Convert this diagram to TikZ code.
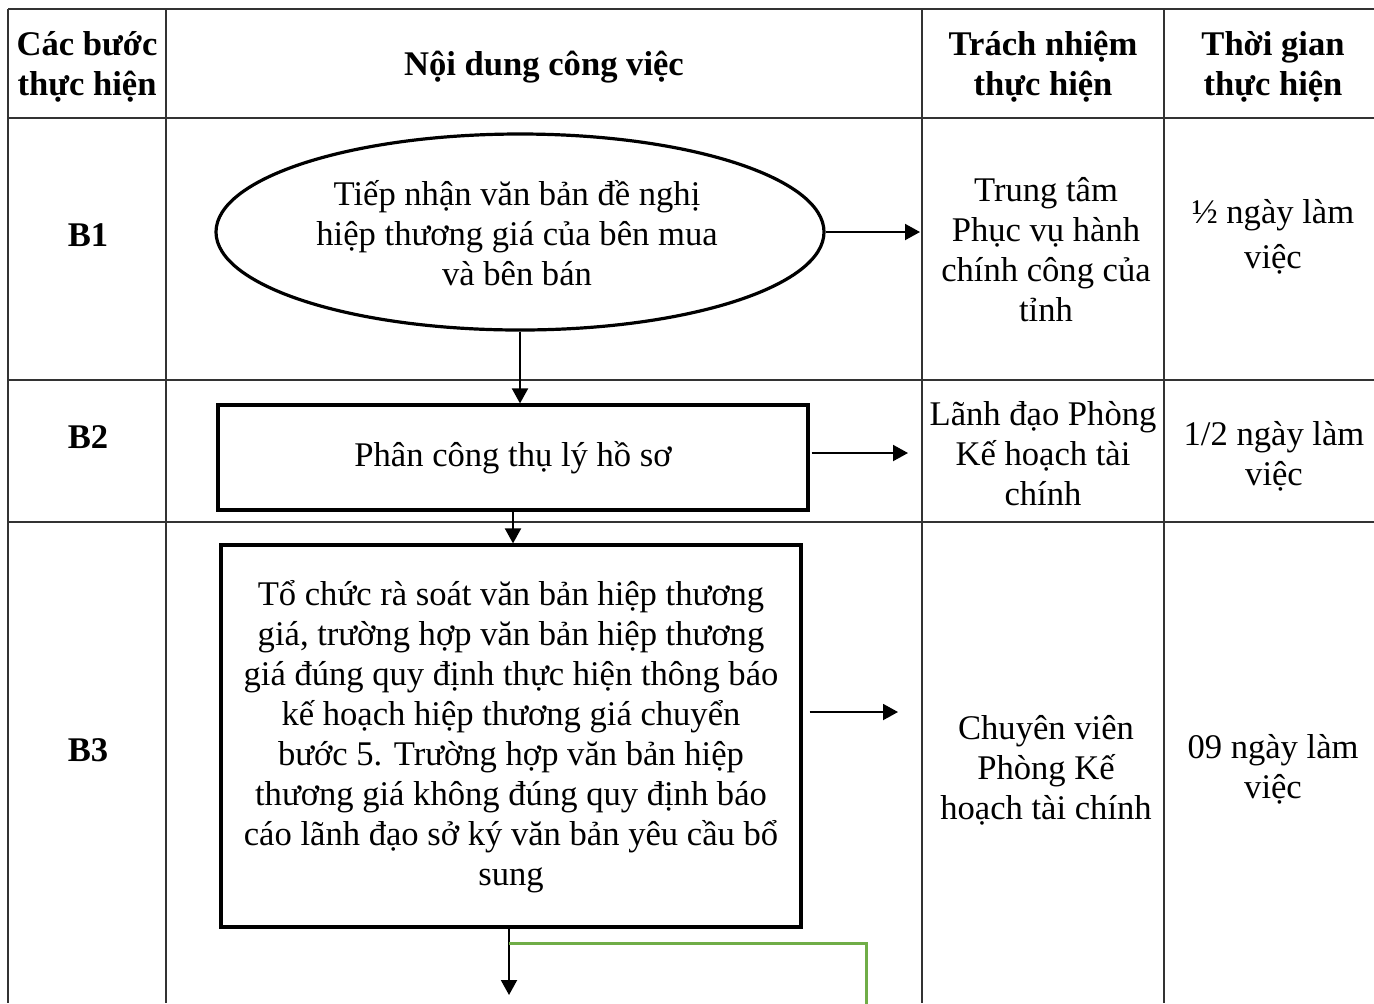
\documentclass[tikz,border=0pt]{standalone}
\usepackage{fontspec}
\setmainfont{Liberation Serif}
\usetikzlibrary{shapes.geometric,arrows.meta}
\begin{document}
\begin{tikzpicture}[x=0.5pt,y=-0.5pt,
  grid/.style={line width=1pt, draw=black!80},
  box/.style={draw=black, line width=1.6pt, inner sep=0pt},
  txt/.style={align=center, font=\fontsize{17.3}{20}\selectfont, inner sep=0pt},
  head/.style={align=center, font=\fontsize{17.3}{20}\selectfont\bfseries, inner sep=0pt},
  arr/.style={line width=1pt, -{Triangle[length=7.5pt,width=8pt]}},
  loopline/.style={draw={rgb,255:red,112;green,173;blue,71}, line width=1.5pt}
]
\useasboundingbox (0,0) rectangle (1374,1003);
% table grid
\draw[grid] (8,9) -- (1374,9);
\draw[grid] (8,118) -- (1374,118);
\draw[grid] (8,380) -- (1374,380);
\draw[grid] (8,522) -- (1374,522);
\draw[grid] (8,9) -- (8,1003);
\draw[grid] (166,9) -- (166,1003);
\draw[grid] (922,9) -- (922,1003);
\draw[grid] (1164,9) -- (1164,1003);
% header
\node[head] (h1) at (87,67) {Các bước\\thực hiện};
\node[head] (h2) at (544,67) {Nội dung công việc};
\node[head] (h3) at (1043,67) {Trách nhiệm\\thực hiện};
\node[head] (h4) at (1273,67) {Thời gian\\thực hiện};
% step labels
\node[head] (s1) at (88,235) {B1};
\node[head] (s2) at (88,437) {B2};
\node[head] (s3) at (88,750) {B3};
% flow shapes
\node[box, ellipse, minimum width=304pt, minimum height=98pt] (e) at (520,232) {};
\node[txt] (et) at (517,233) {Tiếp nhận văn bản đề nghị\\hiệp thương giá của bên mua\\và bên bán};
\node[box, rectangle, minimum width=295pt, minimum height=52.5pt] (b2) at (513,457.5) {};
\node[txt] (b2t) at (513,458) {Phân công thụ lý hồ sơ};
\node[box, rectangle, minimum width=290pt, minimum height=191pt] (b3) at (511,736) {};
\node[txt] (b3t) at (511,737) {Tổ chức rà soát văn bản hiệp thương\\giá, trường hợp văn bản hiệp thương\\giá đúng quy định thực hiện thông báo\\kế hoạch hiệp thương giá chuyển\\bước 5. Trường hợp văn bản hiệp\\thương giá không đúng quy định báo\\cáo lãnh đạo sở ký văn bản yêu cầu bổ\\sung};
% responsibility
\node[txt] (r1) at (1046,250) {Trung tâm\\Phục vụ hành\\chính công của\\tỉnh};
\node[txt] (r2) at (1043,454) {Lãnh đạo Phòng\\Kế hoạch tài\\chính};
\node[txt] (r3) at (1046,770) {Chuyên viên\\Phòng Kế\\hoạch tài chính};
% time
\node[txt, font=\fontsize{17.3}{22.5}\selectfont] (t1) at (1273,237) {½ ngày làm\\việc};
\node[txt] (t2) at (1274,456) {1/2 ngày làm\\việc};
\node[txt] (t3) at (1273,769) {09 ngày làm\\việc};
% connectors
\coordinate (a1) at (920,232);
\coordinate (a2) at (908,453);
\coordinate (a3) at (898,712);
\coordinate (d3) at (509,995);
\coordinate (g1) at (509,943);
\coordinate (g2) at (866,943);
\coordinate (g3) at (866,1010);
\path (b2.east |- a2) coordinate (a2s);
\path (b3.south -| d3) coordinate (d3s);
\draw[arr] (e.south) -- (e.south |- b2.north);
\draw[arr] (b2.south) -- (b2.south |- b3.north);
\draw[arr] (d3s) -- (d3);
\draw[arr] (e.east) -- (a1);
\draw[arr] ([xshift=1pt]a2s) -- (a2);
\draw[arr] ([shift={(7,-24)}]b3.east) -- (a3);
\draw[loopline] (g1) -- (g2) -- (g3);
\end{tikzpicture}
\end{document}
